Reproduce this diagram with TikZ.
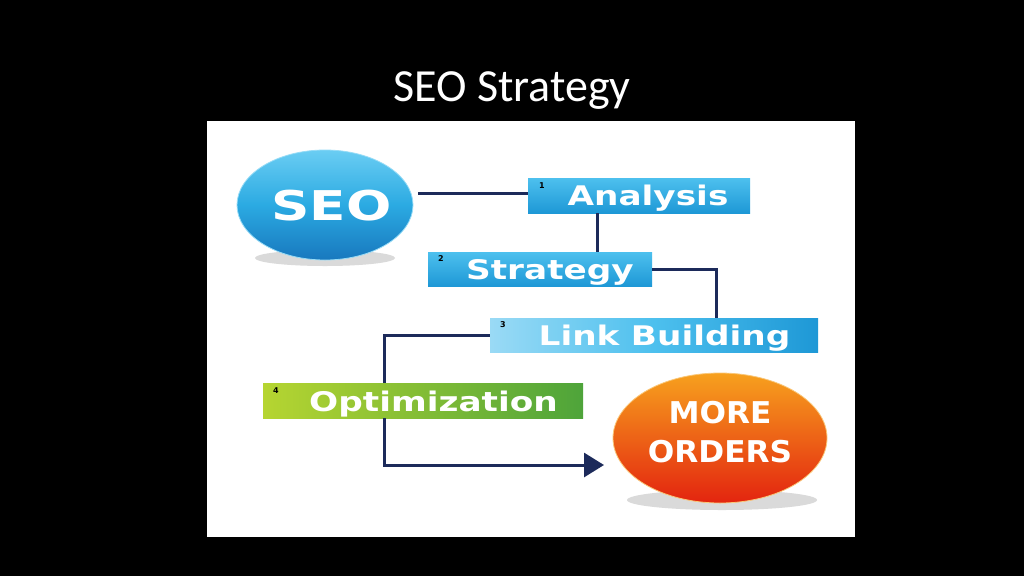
\documentclass[tikz,border=0pt]{standalone}
\usepackage{fontspec}
\setmainfont{DejaVu Sans}
\newfontfamily\titlefont{Carlito}
\usetikzlibrary{arrows.meta,shapes.geometric}
\definecolor{navy}{HTML}{1C2A5A}
\definecolor{bluetop}{HTML}{4DC0EE}
\definecolor{bluebot}{HTML}{1E98D6}
\definecolor{bluelite}{HTML}{9ADAF5}
\definecolor{seotop}{HTML}{6ACDF3}
\definecolor{seomid}{HTML}{2BAAE2}
\definecolor{seobot}{HTML}{1878BE}
\definecolor{greenl}{HTML}{B6D531}
\definecolor{greenr}{HTML}{4EA43A}
\definecolor{orgtop}{HTML}{F7A11E}
\definecolor{orgbot}{HTML}{E3240F}
\definecolor{shadowc}{HTML}{DADADA}
\tikzset{
  conn/.style={draw=navy, line width=3pt},
  boxbase/.style={rectangle, inner sep=0pt, minimum height=35pt},
  bluebox/.style={boxbase, top color=bluetop, bottom color=bluebot},
  boxtext/.style={text=white, font=\bfseries\fontsize{27}{30}\selectfont, inner sep=0pt, anchor=base, xscale=1.27},
  numtext/.style={text=black, font=\bfseries\fontsize{8}{9}\selectfont, inner sep=0pt},
  shadowell/.style={ellipse, fill=shadowc, inner sep=0pt},
}
\begin{document}
\begin{tikzpicture}[x=1pt,y=-1pt]
\fill[black] (0,0) rectangle (1024,576);
\useasboundingbox (0,0) rectangle (1024,576);
\node[text=white, font=\titlefont\fontsize{46}{50}\selectfont, inner sep=0pt, anchor=base] (title) at (512,101) {SEO Strategy};
\fill[white] (207,121) rectangle (855,537);

% shadows
\node[shadowell, minimum width=140pt, minimum height=16pt] (seoshadow) at (325,258) {};
\node[shadowell, minimum width=190pt, minimum height=20pt] (moshadow) at (722,500) {};

% SEO ellipse
\node[ellipse, minimum width=176pt, minimum height=110pt, inner sep=0pt,
      top color=seotop, bottom color=seobot, middle color=seomid,
      draw=seotop!70!white, line width=0.8pt] (seo) at (325,205) {};
\node[text=white, font=\bfseries\fontsize{41}{44}\selectfont, inner sep=0pt, anchor=base, xscale=1.3] (seotext) at (331.5,220) {SEO};

% boxes
\node[bluebox, minimum width=222pt] (ana) at (639,195.5) {};
\node[boxtext] (anat) at (648,205) {Analysis};
\node[numtext] (n1) at (542,186) {1};

\node[bluebox, minimum width=224pt, minimum height=34pt] (str) at (540,269) {};
\node[boxtext] (strt) at (550,279) {Strategy};
\node[numtext] (n2) at (441,259) {2};

\node[boxbase, minimum width=328pt, minimum height=34pt, left color=bluelite, right color=bluebot, middle color=bluetop] (lnk) at (654,335) {};
\node[boxtext] (lnkt) at (664.5,345) {Link\hspace{9pt}Building};
\node[numtext] (n3) at (503,325) {3};

\node[boxbase, minimum width=320pt, left color=greenl, right color=greenr] (opt) at (423,400.5) {};
\node[boxtext] (optt) at (433.5,411) {Optimization};
\node[numtext] (n4) at (276,391) {4};

% MORE ORDERS ellipse
\node[ellipse, minimum width=214pt, minimum height=130pt, inner sep=0pt,
      top color=orgtop, bottom color=orgbot, draw=orgtop!60!white, line width=0.8pt] (mo) at (720,438) {};
\node[text=white, font=\bfseries\fontsize{30}{39}\selectfont, inner sep=0pt, align=center, xscale=1.04] (motext) at (720,432) {MORE\\ORDERS};

% connectors
\coordinate (c1) at (384,335);
\coordinate (c2) at (716,269);
\coordinate (tip) at (604,465);
\draw[conn] (ana.west |- 0,193) -- (418,193);
\draw[conn] (ana.south -| 597,0) -- (str.north -| 597,0);
\draw[conn] (str.east) -- (c2) -- (c2 |- lnk.north);
\draw[conn] (lnk.west) -- (c1) -- (c1 |- opt.north);
\draw[conn, -{Triangle[length=20pt,width=24pt]}] (c1 |- opt.south) |- (tip);
\end{tikzpicture}
\end{document}
